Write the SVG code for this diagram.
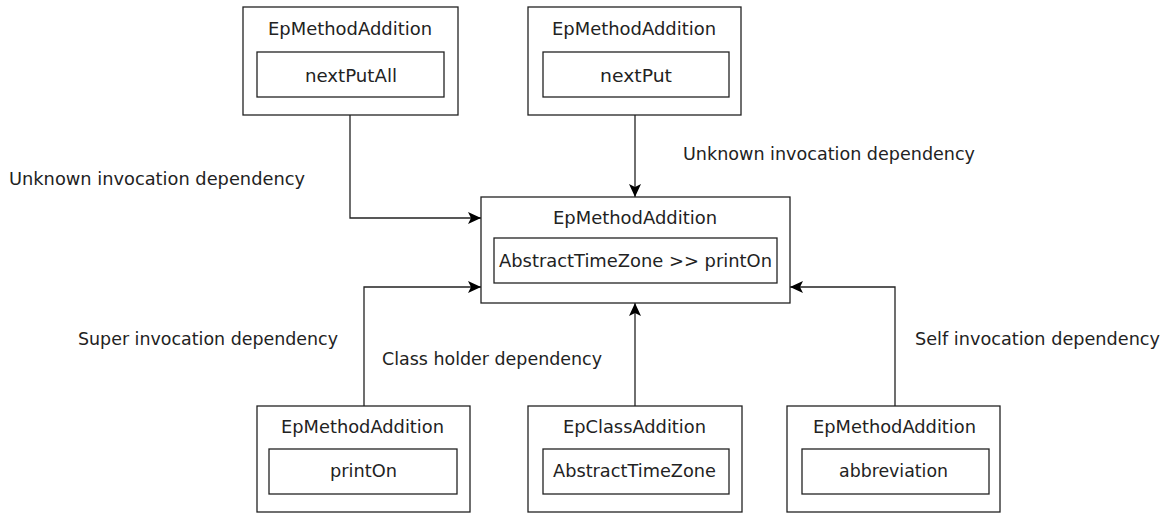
<svg xmlns="http://www.w3.org/2000/svg" width="1166" height="513" viewBox="0 0 1166 513">
<style>
.box{fill:#fff;stroke:#222;stroke-width:1.3}
.t{font-family:"DejaVu Sans","Liberation Sans",sans-serif;font-size:17px;fill:#222;text-anchor:middle}
.l{font-family:"DejaVu Sans","Liberation Sans",sans-serif;font-size:17px;fill:#222}
.c{fill:none;stroke:#222;stroke-width:1.3}
</style>
<defs>
<marker id="a" markerWidth="14" markerHeight="12" refX="13" refY="6" orient="auto" markerUnits="userSpaceOnUse">
<path d="M0,0 L13,6 L0,12 L3,6 Z" fill="#000"/>
</marker>
</defs>
<rect width="1166" height="513" fill="#fff"/>
<g id="connectors">
<path class="c" d="M350,115 V218 H481" marker-end="url(#a)"/>
<path class="c" d="M635,115 V197" marker-end="url(#a)"/>
<path class="c" d="M364,406 V287 H481" marker-end="url(#a)"/>
<path class="c" d="M635,406 V303" marker-end="url(#a)"/>
<path class="c" d="M895,406 V287 H790" marker-end="url(#a)"/>
<text class="l" x="9" y="185" textLength="296" lengthAdjust="spacingAndGlyphs">Unknown invocation dependency</text>
<text class="l" x="683" y="160" textLength="292" lengthAdjust="spacingAndGlyphs">Unknown invocation dependency</text>
<text class="l" x="78" y="345" textLength="260" lengthAdjust="spacingAndGlyphs">Super invocation dependency</text>
<text class="l" x="382" y="365" textLength="220" lengthAdjust="spacingAndGlyphs">Class holder dependency</text>
<text class="l" x="915" y="345" textLength="245" lengthAdjust="spacingAndGlyphs">Self invocation dependency</text>
</g>
<g id="n1">
<rect class="box" x="243" y="7" width="215" height="108"/>
<text class="t" x="350" y="35" textLength="164" lengthAdjust="spacingAndGlyphs">EpMethodAddition</text>
<rect class="box" x="257" y="52" width="187" height="45"/>
<text class="t" x="351" y="82" textLength="92" lengthAdjust="spacingAndGlyphs">nextPutAll</text>
</g>
<g id="n2">
<rect class="box" x="528" y="7" width="213" height="108"/>
<text class="t" x="634" y="35" textLength="164" lengthAdjust="spacingAndGlyphs">EpMethodAddition</text>
<rect class="box" x="543" y="52" width="186" height="45"/>
<text class="t" x="636" y="82" textLength="72" lengthAdjust="spacingAndGlyphs">nextPut</text>
</g>
<g id="center">
<rect class="box" x="481" y="197" width="309" height="106"/>
<text class="t" x="635" y="224" textLength="164" lengthAdjust="spacingAndGlyphs">EpMethodAddition</text>
<rect class="box" x="494" y="238" width="283" height="45"/>
<text class="t" x="635.5" y="267" textLength="273" lengthAdjust="spacingAndGlyphs">AbstractTimeZone &gt;&gt; printOn</text>
</g>
<g id="n3">
<rect class="box" x="257" y="406" width="213" height="106"/>
<text class="t" x="362.5" y="433" textLength="163" lengthAdjust="spacingAndGlyphs">EpMethodAddition</text>
<rect class="box" x="269" y="449" width="188" height="45"/>
<text class="t" x="363.5" y="477" textLength="67" lengthAdjust="spacingAndGlyphs">printOn</text>
</g>
<g id="n4">
<rect class="box" x="528" y="406" width="214" height="106"/>
<text class="t" x="634.5" y="433" textLength="143" lengthAdjust="spacingAndGlyphs">EpClassAddition</text>
<rect class="box" x="543" y="449" width="186" height="45"/>
<text class="t" x="634.5" y="477" textLength="163" lengthAdjust="spacingAndGlyphs">AbstractTimeZone</text>
</g>
<g id="n5">
<rect class="box" x="787" y="406" width="213" height="106"/>
<text class="t" x="894.5" y="433" textLength="163" lengthAdjust="spacingAndGlyphs">EpMethodAddition</text>
<rect class="box" x="802" y="449" width="187" height="45"/>
<text class="t" x="893.5" y="477" textLength="109" lengthAdjust="spacingAndGlyphs">abbreviation</text>
</g>
</svg>
